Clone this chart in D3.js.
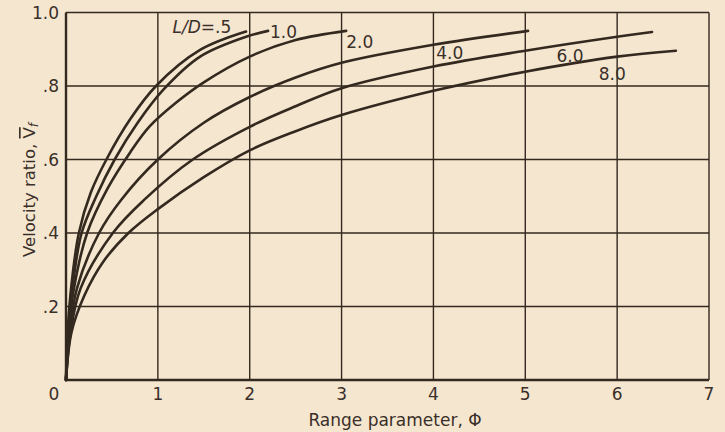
<!DOCTYPE html>
<meta charset="utf-8">
<style>
body { margin: 0; background: #f5e6d0; }
svg { display: block; }
text { font-family: "DejaVu Sans", Lato, sans-serif; fill: #3a2f29; }
</style>
<svg width="725" height="432"></svg>
<script src="https://cdn.jsdelivr.net/npm/d3@7"></script>
<script>
// curves, [phi, velocity ratio]
var ld05 = [[0,0],[0.02,0.14],[0.06,0.26],[0.14,0.4],[0.27,0.51],[0.44,0.6],[0.7,0.71],[0.98,0.8],[1.46,0.898],[1.96,0.948]]
var ld10 = [[0,0],[0.025,0.13],[0.07,0.25],[0.17,0.4],[0.33,0.5],[0.53,0.6],[0.78,0.7],[1.06,0.79],[1.46,0.88],[1.96,0.934],[2.2,0.95]]
var ld20 = [[0,0],[0.03,0.13],[0.08,0.24],[0.23,0.4],[0.45,0.52],[0.7,0.62],[0.91,0.69],[1.2,0.755],[1.5,0.81],[2,0.88],[2.5,0.925],[3.05,0.95]]
var ld40 = [[0,0],[0.04,0.13],[0.12,0.25],[0.36,0.4],[0.6,0.49],[1,0.6],[1.5,0.7],[2,0.77],[2.5,0.823],[3,0.863],[4,0.912],[5.03,0.95]]
var ld60 = [[0,0],[0.05,0.13],[0.16,0.25],[0.51,0.4],[0.85,0.49],[1.38,0.6],[2,0.689],[2.5,0.745],[3,0.794],[4,0.853],[5,0.896],[6,0.934],[6.38,0.947]]
var ld80 = [[0,0],[0.06,0.13],[0.2,0.23],[0.4,0.32],[0.68,0.4],[1,0.465],[1.5,0.552],[2,0.625],[2.5,0.677],[3,0.721],[4,0.787],[5,0.839],[6,0.88],[6.64,0.896]]

var curves = [ld05, ld10, ld20, ld40, ld60, ld80]
var curveLabels = ["L/D=.5", "1.0", "2.0", "4.0", "6.0", "8.0"]
// label anchor (left, baseline) in data units (phi, v)
var labelPos = [[1.16, 0.944], [2.22, 0.931], [3.05, 0.903], [4.03, 0.873], [5.34, 0.865], [5.8, 0.816]]

var xTicks = [0, 1, 2, 3, 4, 5, 6, 7]
var yTicks = [0, 0.2, 0.4, 0.6, 0.8, 1.0]
var yTickLabels = ["", ".2", ".4", ".6", ".8", "1.0"]

var ink = "#33291f"
var svg = d3.select("svg")
var m = {left: 66, right: 16, top: 12.5, bottom: 52}
var W = 725 - m.left - m.right, H = 432 - m.top - m.bottom

var x = d3.scaleLinear().domain([0, 7]).range([m.left, m.left + W])
var y = d3.scaleLinear().domain([0, 1]).range([m.top + H, m.top])

var g = svg.append("g")

// grid
g.selectAll("line.vx").data(xTicks).enter().append("line")
  .attr("x1", d => x(d)).attr("x2", d => x(d))
  .attr("y1", y(0)).attr("y2", y(1))
  .attr("stroke", ink).attr("stroke-width", d => d === 0 ? 2.4 : 1.4)
g.selectAll("line.hy").data(yTicks).enter().append("line")
  .attr("y1", d => y(d)).attr("y2", d => y(d))
  .attr("x1", x(0)).attr("x2", x(7))
  .attr("stroke", ink).attr("stroke-width", d => d === 0 ? 2.6 : 1.4)

// tick labels
g.selectAll("text.xt").data(xTicks).enter().append("text")
  .attr("x", d => d === 0 ? x(0) - 12 : x(d))
  .attr("y", y(0) + 20)
  .attr("text-anchor", "middle")
  .attr("font-size", 17)
  .text(d => d)
g.selectAll("text.yt").data(yTicks).enter().append("text")
  .attr("x", x(0) - 7)
  .attr("y", d => y(d) + 6)
  .attr("text-anchor", "end")
  .attr("font-size", 17)
  .text((d, i) => yTickLabels[i])

// curves
var line = d3.line().x(d => x(d[0])).y(d => y(d[1])).curve(d3.curveCatmullRom.alpha(0.5))
g.selectAll("path.c").data(curves).enter().append("path")
  .attr("d", line)
  .attr("fill", "none")
  .attr("stroke", ink)
  .attr("stroke-width", 2.6)
  .attr("stroke-linecap", "round")

// curve labels
g.selectAll("text.cl").data(curveLabels).enter().append("text")
  .attr("x", (d, i) => x(labelPos[i][0]))
  .attr("y", (d, i) => y(labelPos[i][1]))
  .attr("font-size", 17)
  .text(d => d)
  .each(function(d) {
    if (d.indexOf("L/D") === 0) {
      var t = d3.select(this).text(null)
      t.append("tspan").attr("font-style", "italic").text("L/D")
      t.append("tspan").text("=.5")
    }
  })

// axis titles
svg.append("text")
  .attr("x", 395).attr("y", 426)
  .attr("text-anchor", "middle")
  .attr("font-size", 17)
  .text("Range parameter, \u03A6")

var yt = svg.append("text")
  .attr("transform", "translate(35,190) rotate(-90)")
  .attr("text-anchor", "middle")
  .attr("font-size", 16.5)
yt.append("tspan").text("Velocity ratio, ")
yt.append("tspan").attr("text-decoration", "overline").text("V")
yt.append("tspan").attr("baseline-shift", "-25%").attr("font-size", 12).attr("font-style", "italic").text("f")
</script>
